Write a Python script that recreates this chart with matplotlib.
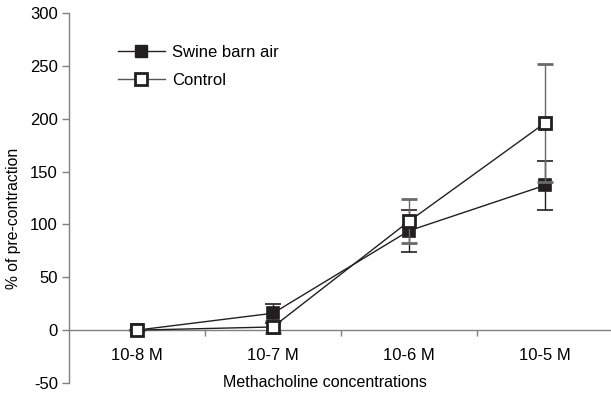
import matplotlib
matplotlib.use("Agg")
import matplotlib.pyplot as plt
import numpy as np
from matplotlib.lines import Line2D

plt.rcParams['font.family'] = ['Liberation Sans', 'DejaVu Sans']
plt.rcParams['axes.unicode_minus'] = False

categories = ["10-8 M", "10-7 M", "10-6 M", "10-5 M"]
swine = [0, 16, 94, 137]
swine_err = [0, 9, 20, 23]
control = [0, 3, 103, 196]
control_err = [0, 6, 21, 56]

dark = '#231f20'
grey = '#808080'
FS = 12

fig = plt.figure(figsize=(6.11, 3.97), dpi=100)
ax = fig.add_axes([69/611, 1-383/397, 544/611, 370/397])

x = np.arange(len(categories))
ax.errorbar(x, swine, yerr=swine_err, color=dark, lw=1, marker='s', ms=9,
            mfc=dark, mec=dark, mew=1.2, ecolor=dark, elinewidth=1, capsize=6,
            capthick=1, label='Swine barn air', zorder=3)
ax.errorbar(x, control, yerr=control_err, color=dark, lw=1, marker='s', ms=9,
            mfc='white', mec=dark, mew=2, ecolor='#6a6a6a', elinewidth=1, capsize=6,
            capthick=1, label='Control', zorder=4)

ax.set_xlim(-0.5, 3.5)
ax.set_ylim(-50, 300)
ax.set_yticks(np.arange(-50, 301, 50))
ax.set_xticks(x)
ax.set_xticklabels(categories)
ax.set_xticks([0.5, 1.5, 2.5], minor=True)
ax.tick_params(axis='x', which='major', length=0, pad=13, labelsize=FS)
ax.tick_params(axis='x', which='minor', length=4, color=grey, width=1, direction='out')
ax.tick_params(axis='y', length=5, color=grey, width=1, labelsize=FS, pad=3)

for s in ['top', 'right']:
    ax.spines[s].set_visible(False)
ax.spines['bottom'].set_position(('data', 0))
ax.spines['bottom'].set_color(grey)
ax.spines['left'].set_color(grey)
ax.spines['left'].set_linewidth(1)
ax.spines['bottom'].set_linewidth(1)

ax.set_xlabel('Methacholine concentrations', fontsize=11.5)
ax.xaxis.set_label_coords((325-69)/544, 0.022)
ax.set_ylabel('% of pre-contraction', fontsize=11.3)
ax.yaxis.set_label_coords((21-69)/544, 0.446)

h1 = Line2D([], [], color=dark, lw=1, marker='s', ms=9, mfc=dark, mec=dark)
h2 = Line2D([], [], color='#555555', lw=1, marker='s', ms=9, mfc='white', mec=dark, mew=2)
ax.legend([h1, h2], ['Swine barn air', 'Control'], loc='upper left',
          bbox_to_anchor=((118-69)/544, (383-45)/370), borderaxespad=0, borderpad=0,
          frameon=False, handlelength=2.8, handletextpad=0.42, labelspacing=0.78,
          fontsize=FS)

fig.savefig('out.png', dpi=100)
